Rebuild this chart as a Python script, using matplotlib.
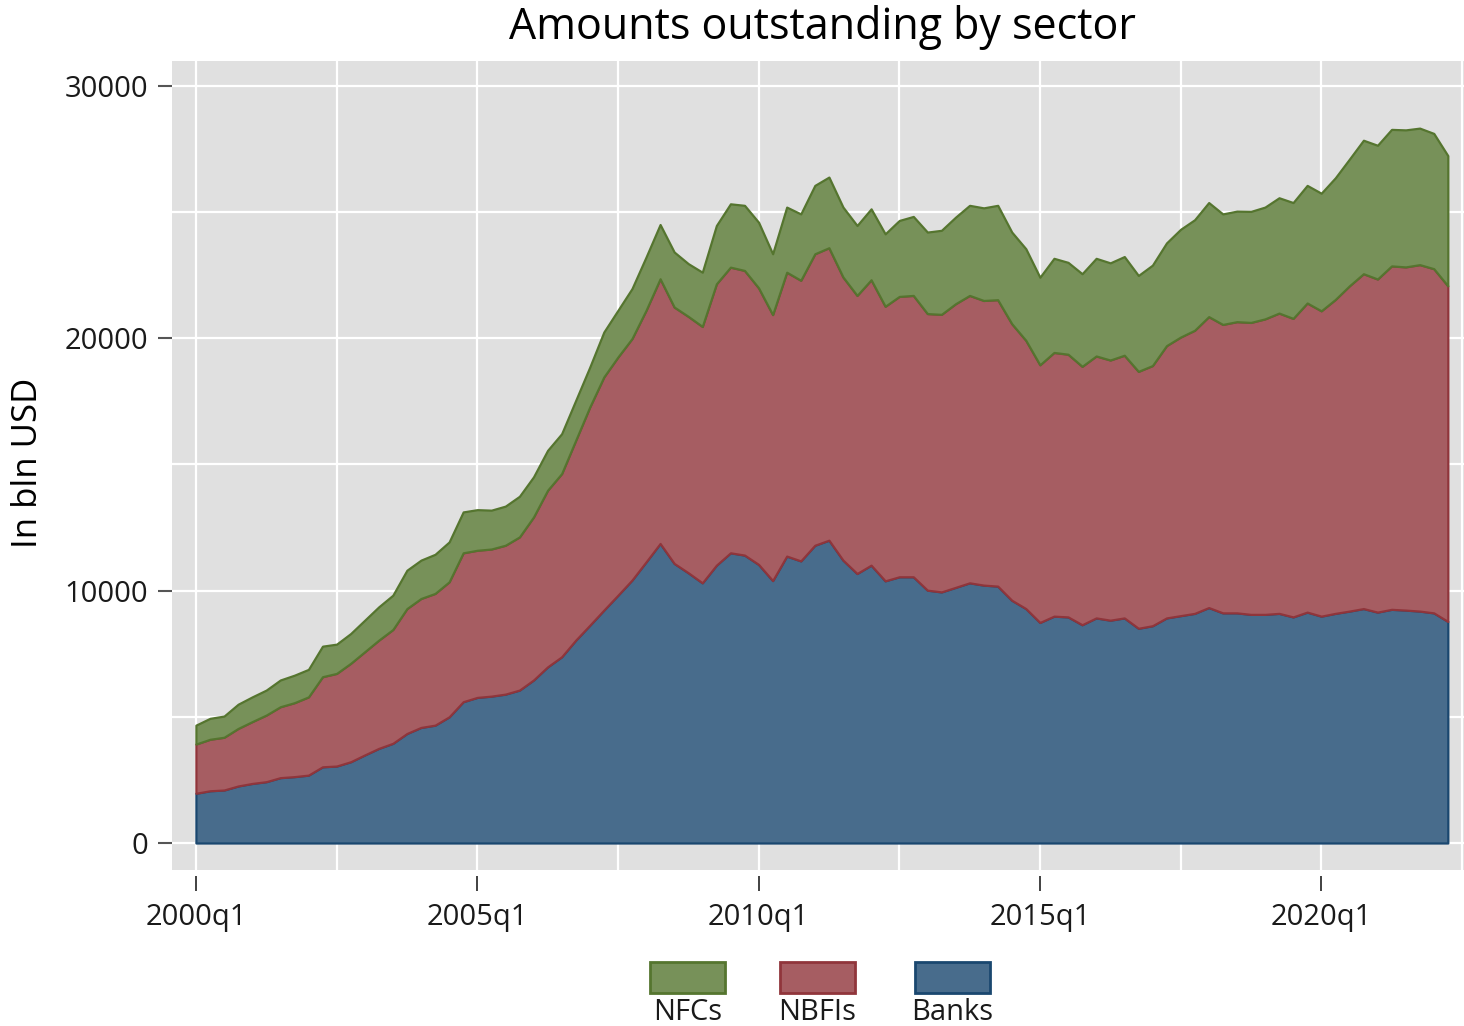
import numpy as np
import matplotlib
matplotlib.use("Agg")
import matplotlib.pyplot as plt
from matplotlib.patches import Rectangle

# Amounts outstanding, bln USD, quarterly 2000q1 .. 2022q2
banks = [1970, 2070, 2100, 2260, 2360, 2430, 2590, 2630, 2690, 3020,
         3050, 3220, 3490, 3750, 3950, 4340, 4580, 4670, 5000, 5600,
         5770, 5820, 5900, 6060, 6460, 6980, 7380, 8040, 8630, 9230,
         9820, 10420, 11140, 11870, 11080, 10710, 10310, 11010, 11500, 11410,
         11040, 10400, 11370, 11180, 11800, 12000, 11210, 10680, 11010, 10390,
         10550, 10550, 10020, 9950, 10130, 10310, 10220, 10180, 9620, 9290,
         8740, 8990, 8960, 8650, 8920, 8830, 8920, 8510, 8610, 8920,
         9010, 9100, 9330, 9120, 9120, 9060, 9060, 9100, 8960, 9150,
         8990, 9100, 9190, 9290, 9150, 9260, 9230, 9190, 9120, 8780]
nbfis = [1950, 2040, 2090, 2280, 2450, 2640, 2810, 2930, 3100, 3570,
         3670, 3900, 4090, 4290, 4510, 4950, 5110, 5220, 5350, 5900,
         5830, 5830, 5900, 6070, 6460, 7000, 7260, 7920, 8650, 9240,
         9440, 9570, 9970, 10490, 10160, 10160, 10160, 11150, 11320, 11280,
         10960, 10540, 11250, 11120, 11550, 11590, 11220, 11020, 11310, 10880,
         11110, 11150, 10960, 11000, 11240, 11390, 11280, 11350, 10960, 10630,
         10210, 10450, 10410, 10240, 10380, 10310, 10410, 10180, 10310, 10790,
         11040, 11220, 11530, 11430, 11540, 11570, 11710, 11900, 11830, 12250,
         12100, 12440, 12890, 13270, 13200, 13610, 13600, 13730, 13640, 13300]
nfcs = [750, 830, 840, 960, 980, 990, 1060, 1090, 1090, 1210,
        1160, 1180, 1250, 1320, 1360, 1520, 1520, 1550, 1580, 1620,
        1610, 1540, 1550, 1610, 1590, 1580, 1580, 1580, 1580, 1780,
        1850, 1980, 2110, 2150, 2180, 2090, 2150, 2310, 2510, 2580,
        2600, 2410, 2580, 2630, 2710, 2800, 2770, 2770, 2810, 2870,
        3010, 3130, 3230, 3330, 3430, 3570, 3670, 3740, 3630, 3630,
        3470, 3730, 3640, 3670, 3870, 3850, 3910, 3800, 3980, 4070,
        4270, 4380, 4520, 4380, 4380, 4400, 4430, 4570, 4590, 4660,
        4660, 4820, 5020, 5290, 5300, 5410, 5430, 5410, 5360, 5160]

tick_pos = [0, 20, 40, 60, 80]
tick_labels = ["2000q1", "2005q1", "2010q1", "2015q1", "2020q1"]
sectors = ["NFCs", "NBFIs", "Banks"]

fills = {"Banks": "#486c8c", "NBFIs": "#a65d62", "NFCs": "#779159"}
edges = {"Banks": "#1a476f", "NBFIs": "#90353b", "NFCs": "#55752f"}

plt.rcParams['font.family'] = ['Open Sans', 'DejaVu Sans']

W, H = 1464, 1026
fig = plt.figure(figsize=(W / 100, H / 100), dpi=100)
ax = fig.add_axes([172 / W, 1 - 870 / H, (1464 - 172) / W, (870 - 61) / H])
ax.set_facecolor("#e0e0e0")

x = np.arange(len(banks))
b = np.array(banks, dtype=float)
n = b + np.array(nbfis)
t = n + np.array(nfcs)

ax.fill_between(x, 0, b, facecolor=fills["Banks"], edgecolor=edges["Banks"], lw=1.6, zorder=3)
ax.fill_between(x, b, n, facecolor=fills["NBFIs"], edgecolor=edges["NBFIs"], lw=1.6, zorder=4)
ax.fill_between(x, n, t, facecolor=fills["NFCs"], edgecolor=edges["NFCs"], lw=1.6, zorder=5)

ax.set_xlim(-1.7, 90.15)
ax.set_ylim(-1070, 30990)

ax.set_xticks(tick_pos)
ax.set_xticklabels(tick_labels)
ax.set_xticks([10, 30, 50, 70, 90], minor=True)
ax.set_yticks([0, 10000, 20000, 30000])
ax.set_yticks([5000, 15000, 25000], minor=True)

ax.set_axisbelow(True)
ax.grid(True, which="both", color="white", lw=1.6, zorder=0)

for s in ax.spines.values():
    s.set_visible(False)
ax.spines["bottom"].set_position(("outward", 4))

ax.tick_params(axis="x", which="major", length=11, width=1.3, color="#333333",
               labelsize=21, pad=9, labelcolor="#1a1a1a")
ax.tick_params(axis="y", which="major", length=10, width=1.5, color="#555555",
               labelsize=21, pad=7, labelcolor="#1a1a1a")
ax.tick_params(which="minor", length=0)

fig.text(822 / W, 1 - 28 / H, "Amounts outstanding by sector", fontsize=31,
         ha="center", va="center", color="black")
fig.text(28 / W, 1 - 463 / H, "In bln USD", fontsize=25, rotation=90,
         ha="center", va="center", color="black")

# legend: keys with labels stacked beneath
key_x = [650, 780, 915]
for name, kx in zip(sectors, key_x):
    fig.add_artist(Rectangle((kx / W, 1 - 993 / H), 75 / W, 31 / H,
                             transform=fig.transFigure, facecolor=fills[name],
                             edgecolor=edges[name], lw=2))
    fig.text((kx + 37.5) / W, 1 - 1012 / H, name, fontsize=21,
             ha="center", va="center", color="#1a1a1a")

fig.savefig("out.png", dpi=100)
